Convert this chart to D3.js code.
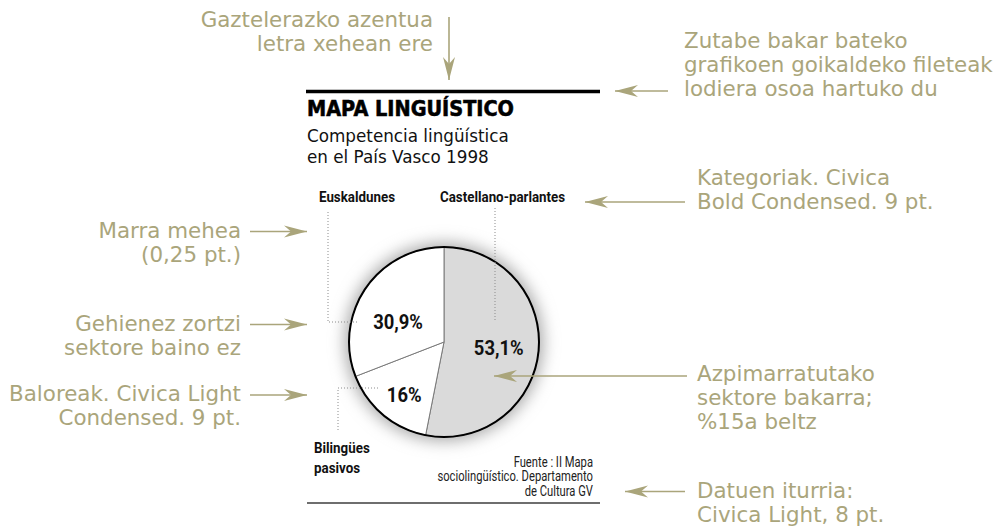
<!DOCTYPE html>
<html>
<head>
<meta charset="utf-8">
<script src="https://cdn.jsdelivr.net/npm/d3@7"></script>
<style>
  body { margin: 0; background: #fff; }
  svg { display: block; }
</style>
</head>
<body>
<svg id="chart" width="996" height="526"></svg>
<script>
// ---- data ----
const categories = ["Castellano-parlantes", "Bilingües pasivos", "Euskaldunes"];
const values = [53.1, 16, 30.9];
const valueLabels = ["53,1%", "16%", "30,9%"];
const highlighted = [true, false, false];
const titleText = "MAPA LINGUÍSTICO";
const subtitleLines = ["Competencia lingüística", "en el País Vasco 1998"];
const sourceLines = ["Fuente : II Mapa", "sociolingüístico. Departamento", "de Cultura GV"];

// ---- layout ----
const W = 996, H = 526;
const pieCenter = [444, 342];
const R = 95;
const frame = { x0: 307, x1: 600, topRule: 91.5, bottomRule: 503 };
const olive = "#aaa57b";

// where each value label sits: fraction along its arc and distance from centre
const valueSpots = [{ t: 0.5, r: 55 }, { t: 0.45, r: 66 }, { t: 0.4, r: 50 }];

// category labels and their dotted leaders
const categorySpots = [
  { lines: ["Castellano-parlantes"], x: 440, y: 202, leader: [[495, 208], [495, 320]] },
  { lines: ["Bilingües", "pasivos"], x: 314, y: 453, leader: [[338, 430], [338, 388], [378, 388]] },
  { lines: ["Euskaldunes"], x: 319, y: 202, leader: [[328, 212], [328, 322], [358, 322]] }
];

// explanatory notes around the graphic
const notes = [
  { lines: ["Gaztelerazko azentua", "letra xehean ere"], x: 433, y: 27, anchor: "end", arrow: [[449, 17], [449, 80]] },
  { lines: ["Zutabe bakar bateko", "grafikoen goikaldeko fileteak", "lodiera osoa hartuko du"], x: 684, y: 48, anchor: "start", arrow: [[668, 91], [615, 91]] },
  { lines: ["Kategoriak. Civica", "Bold Condensed. 9 pt."], x: 697, y: 185, anchor: "start", arrow: [[685, 202], [585, 202]] },
  { lines: ["Marra mehea", "(0,25 pt.)"], x: 241, y: 238, anchor: "end", arrow: [[250, 231.5], [307, 231.5]] },
  { lines: ["Gehienez zortzi", "sektore baino ez"], x: 241, y: 331, anchor: "end", arrow: [[250, 324.5], [307, 324.5]] },
  { lines: ["Baloreak. Civica Light", "Condensed. 9 pt."], x: 241, y: 401, anchor: "end", arrow: [[250, 395], [307, 395]] },
  { lines: ["Azpimarratutako", "sektore bakarra;", "%15a beltz"], x: 697, y: 381, anchor: "start", arrow: [[687, 376], [494, 376]] },
  { lines: ["Datuen iturria:", "Civica Light, 8 pt."], x: 697, y: 498, anchor: "start", arrow: [[685, 491.5], [625, 491.5]] }
];

const svg = d3.select("#chart");
const defs = svg.append("defs");

// narrow a text element horizontally to mimic a condensed face
function condense(sel, k) {
  sel.each(function () {
    const w = this.getComputedTextLength();
    d3.select(this).attr("textLength", w * k).attr("lengthAdjust", "spacingAndGlyphs");
  });
}

// swept-back arrowhead
defs.append("marker")
  .attr("id", "head")
  .attr("viewBox", "-24 -7 26 14")
  .attr("refX", 0).attr("refY", 0)
  .attr("markerWidth", 26).attr("markerHeight", 14)
  .attr("markerUnits", "userSpaceOnUse")
  .attr("orient", "auto")
  .append("path")
  .attr("d", "M0,0 L-23,-6 L-16,0 L-23,6 Z")
  .attr("fill", olive);

// soft halo around the pie
const blur = defs.append("filter").attr("id", "halo")
  .attr("x", "-40%").attr("y", "-40%").attr("width", "180%").attr("height", "180%");
blur.append("feGaussianBlur").attr("stdDeviation", 8);

// ---- rules ----
svg.append("line")
  .attr("x1", frame.x0 - 1).attr("x2", frame.x1)
  .attr("y1", frame.topRule).attr("y2", frame.topRule)
  .attr("stroke", "#000").attr("stroke-width", 3.5);
svg.append("line")
  .attr("x1", frame.x0).attr("x2", frame.x1)
  .attr("y1", frame.bottomRule).attr("y2", frame.bottomRule)
  .attr("stroke", "#6e6e6e").attr("stroke-width", 2);

// ---- title block ----
const title = svg.append("text")
  .attr("x", frame.x0).attr("y", 116)
  .attr("font-family", "DejaVu Sans").attr("font-weight", 700)
  .attr("font-size", 20.5).attr("fill", "#000")
  .attr("stroke", "#000").attr("stroke-width", 0.6)
  .text(titleText);
condense(title, 0.94);

svg.selectAll("text.sub").data(subtitleLines).join("text")
  .attr("class", "sub")
  .attr("x", frame.x0).attr("y", (d, i) => 142 + i * 21)
  .attr("font-family", "DejaVu Sans").attr("font-size", 16.8)
  .attr("fill", "#111")
  .text(d => d);

// ---- pie ----
const pie = d3.pie().sort(null).value(d => d);
const arcs = pie(values);
const arc = d3.arc().innerRadius(0).outerRadius(R);

const g = svg.append("g").attr("transform", `translate(${pieCenter[0]},${pieCenter[1]})`);

g.append("circle").attr("r", R + 4).attr("fill", "#a8a8a8")
  .attr("filter", "url(#halo)");

g.selectAll("path.slice").data(arcs).join("path")
  .attr("class", "slice")
  .attr("d", arc)
  .attr("fill", (d, i) => highlighted[i] ? "#dadada" : "#fff")
  .attr("stroke", "#7a7a7a").attr("stroke-width", 1);

g.append("circle").attr("r", R).attr("fill", "none")
  .attr("stroke", "#000").attr("stroke-width", 2);

// value labels
const valueText = g.selectAll("text.val").data(arcs).join("text")
  .attr("class", "val")
  .attr("transform", (d, i) => {
    const s = valueSpots[i];
    const a = d.startAngle + s.t * (d.endAngle - d.startAngle);
    return `translate(${Math.sin(a) * s.r},${-Math.cos(a) * s.r})`;
  })
  .attr("dy", "0.36em")
  .attr("text-anchor", "middle")
  .attr("font-family", "Roboto").attr("font-weight", 700)
  .attr("font-size", 20).attr("fill", "#111")
  .text((d, i) => valueLabels[i]);
condense(valueText, 0.92);

// ---- category labels and leaders ----
categorySpots.forEach((c, i) => {
  svg.append("path")
    .attr("d", d3.line()(c.leader))
    .attr("fill", "none").attr("stroke", "#8c8c8c")
    .attr("stroke-width", 1).attr("stroke-dasharray", "1,2");
  c.lines.forEach((ln, j) => {
    const t = svg.append("text")
      .attr("x", c.x).attr("y", c.y + j * 20)
      .attr("font-family", "Roboto").attr("font-weight", 700)
      .attr("font-size", 14.5).attr("fill", "#111")
      .text(ln);
    condense(t, 0.92);
  });
});

// ---- source ----
sourceLines.forEach((ln, i) => {
  const t = svg.append("text")
    .attr("x", 593).attr("y", 467 + i * 14.3)
    .attr("text-anchor", "end")
    .attr("font-family", "Roboto").attr("font-size", 14)
    .attr("fill", "#222")
    .text(ln);
  condense(t, 0.8);
});

// ---- notes ----
notes.forEach(n => {
  svg.append("line")
    .attr("x1", n.arrow[0][0]).attr("y1", n.arrow[0][1])
    .attr("x2", n.arrow[1][0]).attr("y2", n.arrow[1][1])
    .attr("stroke", olive).attr("stroke-width", 1.6)
    .attr("marker-end", "url(#head)");
  n.lines.forEach((ln, j) => {
    svg.append("text")
      .attr("x", n.x).attr("y", n.y + j * 24)
      .attr("text-anchor", n.anchor)
      .attr("font-family", "DejaVu Sans").attr("font-size", 21.4)
      .attr("fill", olive)
      .text(ln);
  });
});
</script>
</body>
</html>
